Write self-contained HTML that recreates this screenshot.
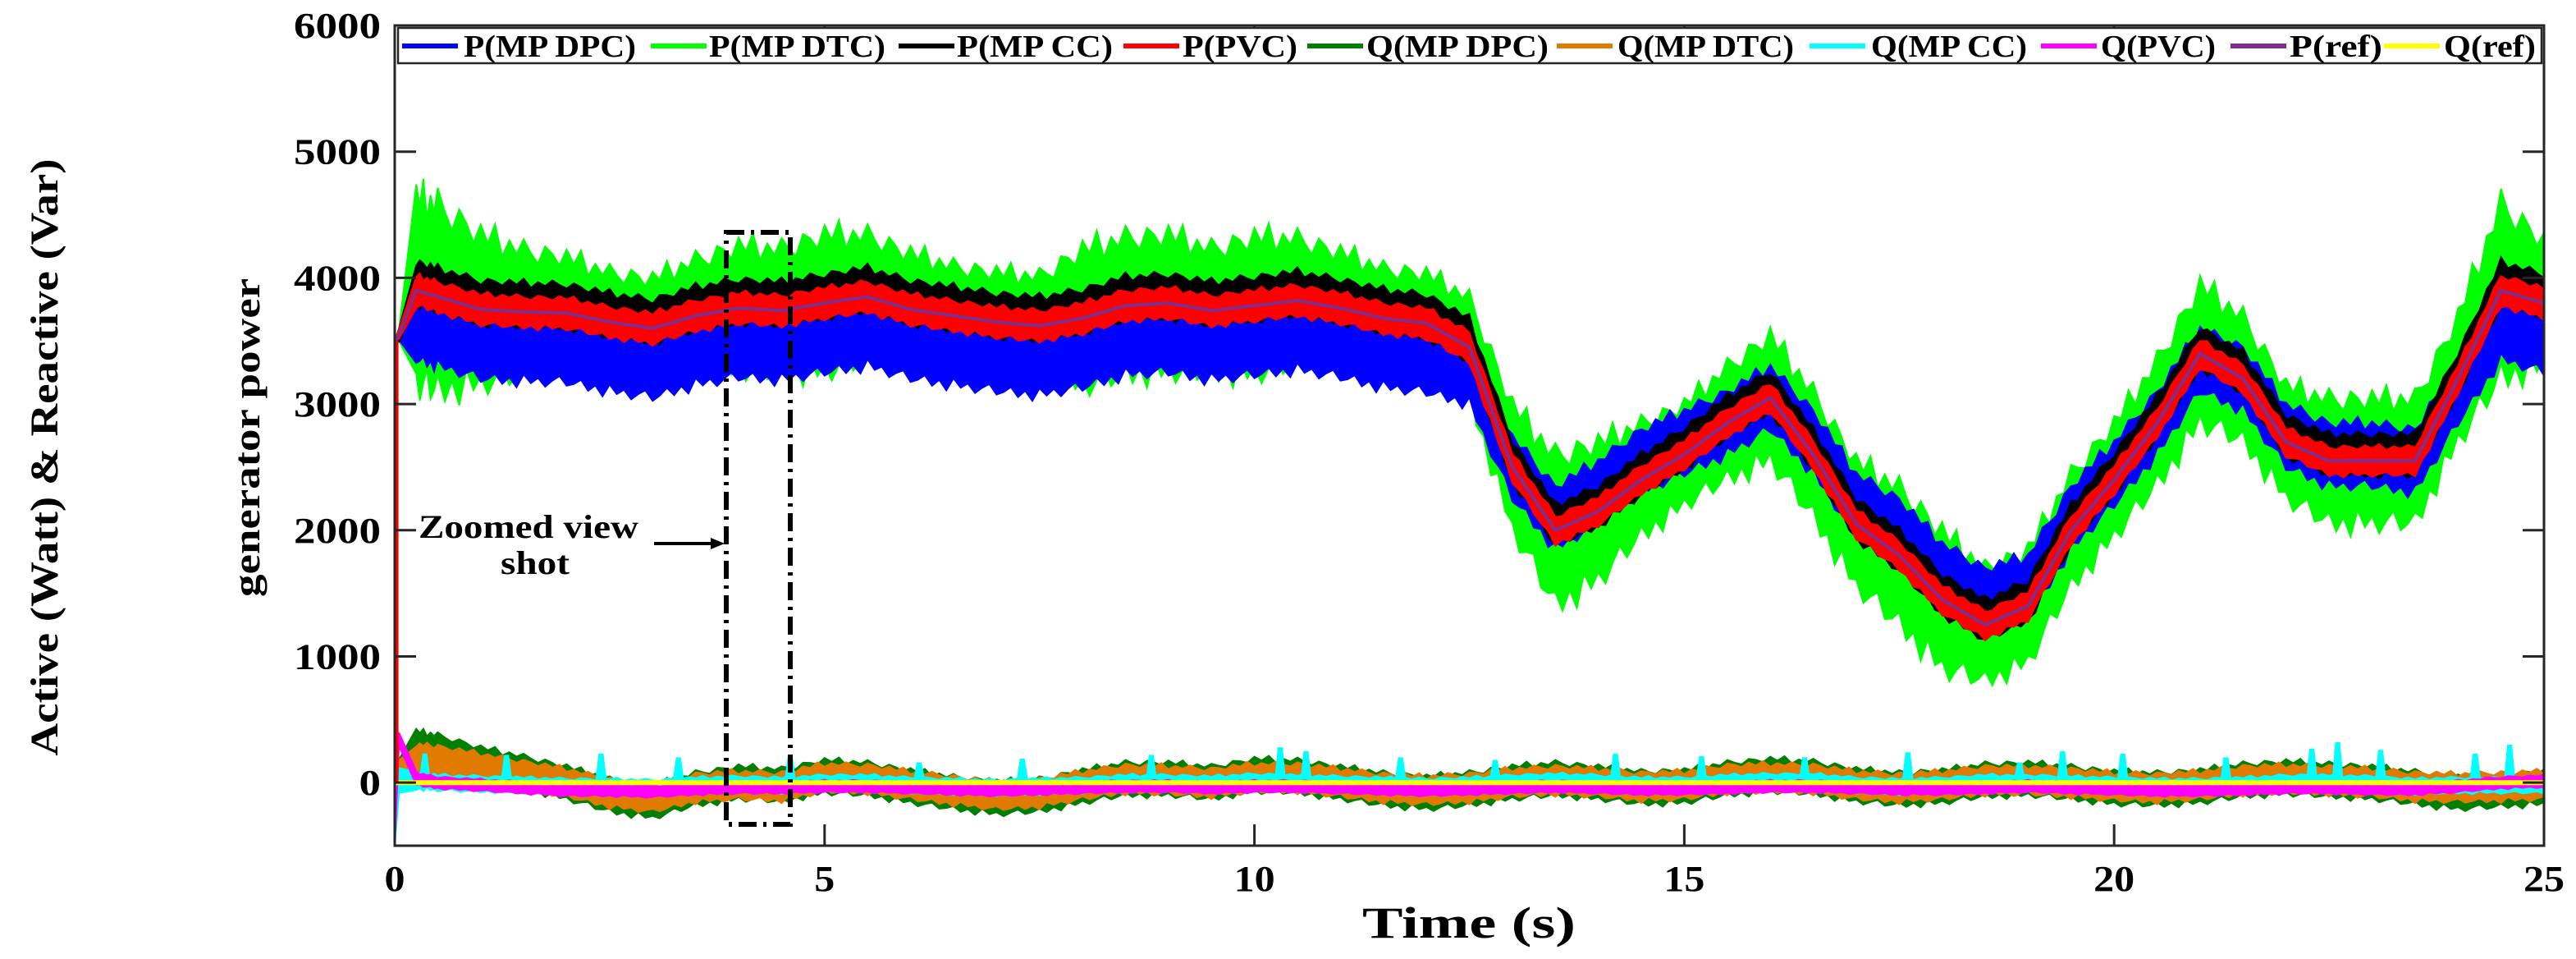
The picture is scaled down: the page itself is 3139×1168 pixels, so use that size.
<!DOCTYPE html>
<html><head><meta charset="utf-8"><style>
html,body{margin:0;padding:0;background:#fff;}
svg{display:block;}
text{font-family:"Liberation Serif",serif;font-weight:bold;fill:#000;}
</style></head><body>
<svg id="chart" width="3139" height="1168" viewBox="0 0 3139 1168" xmlns="http://www.w3.org/2000/svg">
<rect x="0" y="0" width="3139" height="1168" fill="#fff"/>
<g id="series"></g>
<g id="axes"></g>
<text x="51" y="538" transform="rotate(-90 70 538)" text-anchor="middle" font-size="48" textLength="727" lengthAdjust="spacingAndGlyphs" fill="#262626">Active (Watt) &amp; Reactive (Var)</text>
<text x="316" y="533" transform="rotate(-90 316 533)" text-anchor="middle" font-size="46" textLength="388" lengthAdjust="spacingAndGlyphs" fill="#262626">generator power</text>
<text x="1790" y="1142" text-anchor="middle" font-size="54" fill="#262626" textLength="260" lengthAdjust="spacingAndGlyphs">Time (s)</text>
<g>
<rect x="885" y="283" width="78" height="721" fill="none" stroke="#000" stroke-width="6" stroke-dasharray="22,8,4,8"/>
<text x="644" y="655" text-anchor="middle" font-size="40" textLength="268" lengthAdjust="spacingAndGlyphs">Zoomed view</text>
<text x="652" y="699" text-anchor="middle" font-size="40" textLength="84" lengthAdjust="spacingAndGlyphs">shot</text>
<line x1="797" y1="662" x2="870" y2="662" stroke="#000" stroke-width="4"/>
<polygon points="883,662 866,655 866,669" fill="#000"/>
</g>
<g id="legend"></g>
</svg>
<script>
const times=[0,0.05,0.25,0.5,1,1.5,2,2.5,3,3.5,4,4.5,5,5.5,6,6.5,7,7.5,8,8.5,9,9.5,10,10.5,11,11.5,12,12.5,13,13.5,14,14.5,15,15.5,16,16.5,17,17.5,18,18.5,19,19.5,20,20.5,21,21.5,22,22.5,23,23.5,24,24.5,25];
const pRef=[3500,3550,3900,3850,3750,3730,3720,3650,3600,3700,3760,3740,3800,3850,3750,3700,3650,3620,3680,3780,3800,3740,3780,3820,3760,3680,3640,3450,2500,2000,2150,2400,2600,2850,3050,2600,2050,1800,1450,1250,1400,2000,2400,2850,3400,3200,2700,2550,2550,2550,3200,3900,3800];
const dtcAmp=[0,50,750,750,600,500,450,400,400,450,500,500,550,500,450,400,400,400,550,550,550,500,550,500,450,400,400,400,500,600,550,450,400,450,500,500,500,550,550,450,450,450,450,500,550,500,450,500,500,500,500,700,500];
const dpcOff=[0,0,-300,-300,-300,-300,-300,-300,-300,-300,-300,-300,-300,-300,-300,-300,-300,-300,-300,-300,-300,-300,-300,-300,-300,-300,-300,-200,0,100,150,150,100,0,0,100,150,200,200,200,150,100,50,0,-50,0,50,50,50,0,-100,-300,-300];
const dpcAmp=[0,50,250,250,250,250,250,250,250,250,250,250,250,250,250,250,250,250,250,250,250,250,250,250,250,250,250,250,250,250,250,250,250,250,250,250,250,250,250,250,250,250,250,250,250,250,250,250,250,250,250,250,250];
const ccOff=[0,0,60,60,60,60,60,60,60,60,60,60,60,60,60,60,60,60,60,60,60,60,60,60,60,60,60,60,50,40,40,40,50,50,50,40,40,40,40,40,40,40,50,50,50,50,50,50,50,50,50,60,60];
const ccAmp=[0,50,170,170,170,170,170,170,170,170,170,170,170,170,170,170,170,170,170,170,170,170,170,170,170,170,170,170,160,160,160,160,160,160,160,160,160,160,160,160,160,160,160,160,160,160,160,160,160,160,160,170,170];
const pvcAmp=[0,40,120,120,120,120,120,120,120,120,120,120,120,120,120,120,120,120,120,120,120,120,120,120,120,120,120,120,110,110,110,110,110,110,110,110,110,110,110,110,110,110,110,110,110,110,110,110,110,110,110,120,120];
const qDpcC=[0,100,280,250,150,80,0,-100,-150,-50,0,-20,50,30,-30,-80,-120,-100,-30,30,30,0,60,50,0,-50,-80,-50,0,30,0,-40,-30,30,60,40,-20,-50,-30,20,30,0,-40,-50,-30,20,40,20,0,-40,-80,-60,-40];
const qDpcAmp=[0,100,130,130,130,130,130,130,130,130,130,130,130,130,130,130,130,130,130,130,130,130,130,130,130,130,130,130,130,130,130,130,130,130,130,130,130,130,130,130,130,130,130,130,130,130,130,130,130,130,130,130,130];
const qDtcC=[0,80,200,180,120,60,0,-80,-120,-40,-20,-30,40,30,-20,-60,-100,-80,-20,30,20,0,40,40,0,-40,-60,-40,0,20,0,-30,-20,30,40,30,-20,-40,-20,20,20,0,-30,-40,-20,20,30,20,0,-30,-40,-30,-20];
const qDtcAmp=[0,80,110,110,110,110,110,110,110,110,110,110,110,110,110,110,110,110,110,110,110,110,110,110,110,110,110,110,110,110,110,110,110,110,110,110,110,110,110,110,110,110,110,110,110,110,110,110,110,110,110,110,110];
const qCcC=[-250,0,20,0,-10,-20,-30,-30,-40,-20,-10,-20,0,0,-20,-30,-40,-30,-20,0,0,-10,10,0,-10,-20,-30,-20,0,10,0,-20,-20,0,10,10,-20,-30,-20,0,0,-10,-20,-30,-30,-20,0,0,-10,-30,-20,-20,-20];
const qCcAmp=[250,100,70,60,60,60,60,60,60,60,60,60,60,60,60,60,60,60,60,60,60,60,60,60,60,60,60,60,60,60,60,60,60,60,60,60,60,60,60,60,60,60,60,60,60,60,60,60,60,60,60,60,60];
const qCcSpikeT=[0.35,1.3,2.4,3.3,4.6,6.1,7.3,8.8,10.3,10.6,11.7,12.8,14.2,15.2,16.4,17.6,18.9,19.4,20.1,21.3,22.3,22.6,23.1,24.2,24.6];
const qCcSpikeV=[230,220,230,200,210,160,190,220,280,250,200,180,230,210,200,240,160,250,230,200,270,320,260,230,300];
const qPvcC=[-500,350,30,0,-20,-40,-60,-60,-70,-50,-40,-40,-30,-30,-40,-50,-60,-50,-40,-30,-30,-40,-30,-30,-40,-50,-60,-50,-40,-30,-40,-50,-50,-40,-30,-30,-40,-50,-50,-40,-30,-40,-50,-60,-60,-50,-40,-40,-50,-50,-30,0,10];
const qPvcAmp=[0,50,50,45,45,45,45,45,45,45,45,45,45,45,45,45,45,45,45,45,45,45,45,45,45,45,45,45,45,45,45,45,45,45,45,45,45,45,45,45,45,45,45,45,45,45,45,45,45,45,45,45,45];
const xTicks=[0,5,10,15,20,25];
const yTicks=[0,1000,2000,3000,4000,5000,6000];
const legendLabels=["P(MP DPC)","P(MP DTC)","P(MP CC)","P(PVC)","Q(MP DPC)","Q(MP DTC)","Q(MP CC)","Q(PVC)","P(ref)","Q(ref)"];

const X0=481,X1=3100,Y0=31,Y1=1030,XMIN=0,XMAX=25,YMIN=-500,YMAX=6000;
const NS="http://www.w3.org/2000/svg";
// fixed edge texture (visual roughness only, multiplies band half-width)
const TEX=[1,0.82,1.12,0.9,1.2,0.78,1.05,0.88,1.15,0.95,0.8,1.1];
function sx(t){return X0+(t-XMIN)/(XMAX-XMIN)*(X1-X0);}
function sy(v){return Y1-(v-YMIN)/(YMAX-YMIN)*(Y1-Y0);}
const seriesG=document.getElementById('series');
const axesG=document.getElementById('axes');
const legendG=document.getElementById('legend');
function mk(tag,attrs,parent){const e=document.createElementNS(NS,tag);for(const k in attrs)e.setAttribute(k,attrs[k]);parent.appendChild(e);return e;}
function band(center,off,amp,color,name,texShift){
  let up=[],lo=[];let k=texShift||0;
  for(let i=0;i<times.length;i++){
    const sub=(i<times.length-1 && times[i]>=0.25)?6:1;
    for(let s=0;s<sub;s++){
      const f=s/sub;const j=Math.min(i+1,times.length-1);
      const t=times[i]+(times[j]-times[i])*f;
      const c=(center[i]+(off?off[i]:0))*(1-f)+(center[j]+(off?off[j]:0))*f;
      const a=amp[i]*(1-f)+amp[j]*f;
      const m1=TEX[k%TEX.length],m2=TEX[(k+5)%TEX.length];k++;
      up.push(sx(t).toFixed(1)+','+sy(c+a*m1).toFixed(1));
      lo.push(sx(t).toFixed(1)+','+sy(c-a*m2).toFixed(1));
    }
  }
  const p=mk('polygon',{points:up.concat(lo.reverse()).join(' '),fill:color,stroke:color,'stroke-width':2},seriesG);
  
  
}
function line(center,color,w,name){
  const pts=times.map((t,i)=>sx(t).toFixed(1)+','+sy(center[i]).toFixed(1)).join(' ');
  const p=mk('polyline',{points:pts,fill:'none',stroke:color,'stroke-width':w},seriesG);
  
  
}
const zeros=times.map(()=>0);
band(qDpcC,null,qDpcAmp,'#007f00','q-mp-dpc-band',0);
band(qDtcC,null,qDtcAmp,'#e07b00','q-mp-dtc-band',3);
band(qCcC,null,qCcAmp,'#00ffff','q-mp-cc-band',7);
qCcSpikeT.forEach((t,i)=>{
  const s=mk('polygon',{points:`${sx(t)-7},${sy(20)} ${sx(t)-3},${sy(qCcSpikeV[i])} ${sx(t)+3},${sy(qCcSpikeV[i])} ${sx(t)+7},${sy(20)}`,fill:'#00ffff'},seriesG);
  
  
});
band(qPvcC,null,qPvcAmp,'#ff00ff','q-pvc-band',2);
line(zeros,'#ffff00',6,'q-ref-line');
band(pRef,null,dtcAmp,'#00ff00','p-mp-dtc-band',0);
band(pRef,dpcOff,dpcAmp,'#0000ff','p-mp-dpc-band',4);
band(pRef,ccOff,ccAmp,'#000000','p-mp-cc-band',8);
band(pRef,null,pvcAmp,'#ff0000','p-pvc-band',1);
const init=mk('line',{x1:sx(0.02),y1:sy(0),x2:sx(0.02),y2:sy(pRef[0]),stroke:'#ff0000','stroke-width':5},seriesG);


line(pRef,'#7e2f8e',4,'p-ref-line');

const frame=mk('rect',{x:X0,y:Y0,width:X1-X0,height:Y1-Y0,fill:'none',stroke:'#262626','stroke-width':3},axesG);


yTicks.forEach(v=>{
  const l=mk('line',{x1:X0,y1:sy(v),x2:X0+26,y2:sy(v),stroke:'#262626','stroke-width':3},axesG);
  
  
  const l2=mk('line',{x1:X1,y1:sy(v),x2:X1-26,y2:sy(v),stroke:'#262626','stroke-width':3},axesG);
  
  
  const s=String(v);
  const t=mk('text',{x:464,y:sy(v)+15,'text-anchor':'end','font-size':44,fill:'#262626',textLength:s.length*26.5,lengthAdjust:'spacingAndGlyphs'},axesG);
  t.textContent=s;
  
  
});
xTicks.forEach(v=>{
  const l=mk('line',{x1:sx(v),y1:Y1,x2:sx(v),y2:Y1-26,stroke:'#262626','stroke-width':3},axesG);
  
  
  const l2=mk('line',{x1:sx(v),y1:Y0,x2:sx(v),y2:Y0+26,stroke:'#262626','stroke-width':3},axesG);
  
  
  const s=String(v);
  const t=mk('text',{x:sx(v),y:1085,'text-anchor':'middle','font-size':44,fill:'#262626',textLength:s.length*25,lengthAdjust:'spacingAndGlyphs'},axesG);
  t.textContent=s;
  
  
});

const lb=mk('rect',{x:485,y:34,width:2612,height:43,fill:'#fff',stroke:'#262626','stroke-width':2.5},legendG);


const legendColors=['#0000ff','#00ff00','#000000','#ff0000','#007f00','#e07b00','#00ffff','#ff00ff','#7e2f8e','#ffff00'];
const legendLineX=[490,793,1095,1369,1593,1897,2205,2487,2718,2905];
const legendTextX=[565,864,1166,1441,1665,1971,2280,2560,2790,2978];
const legendTextW=[210,215,190,140,222,215,190,140,113,112];
legendLabels.forEach((lab,i)=>{
  const l=mk('line',{x1:legendLineX[i],y1:56,x2:legendLineX[i]+68,y2:56,stroke:legendColors[i],'stroke-width':6},legendG);
  
  
  const t=mk('text',{x:legendTextX[i],y:69,'font-size':38,textLength:legendTextW[i],lengthAdjust:'spacingAndGlyphs'},legendG);
  t.textContent=lab;
  
  
});
</script>
</body></html>
